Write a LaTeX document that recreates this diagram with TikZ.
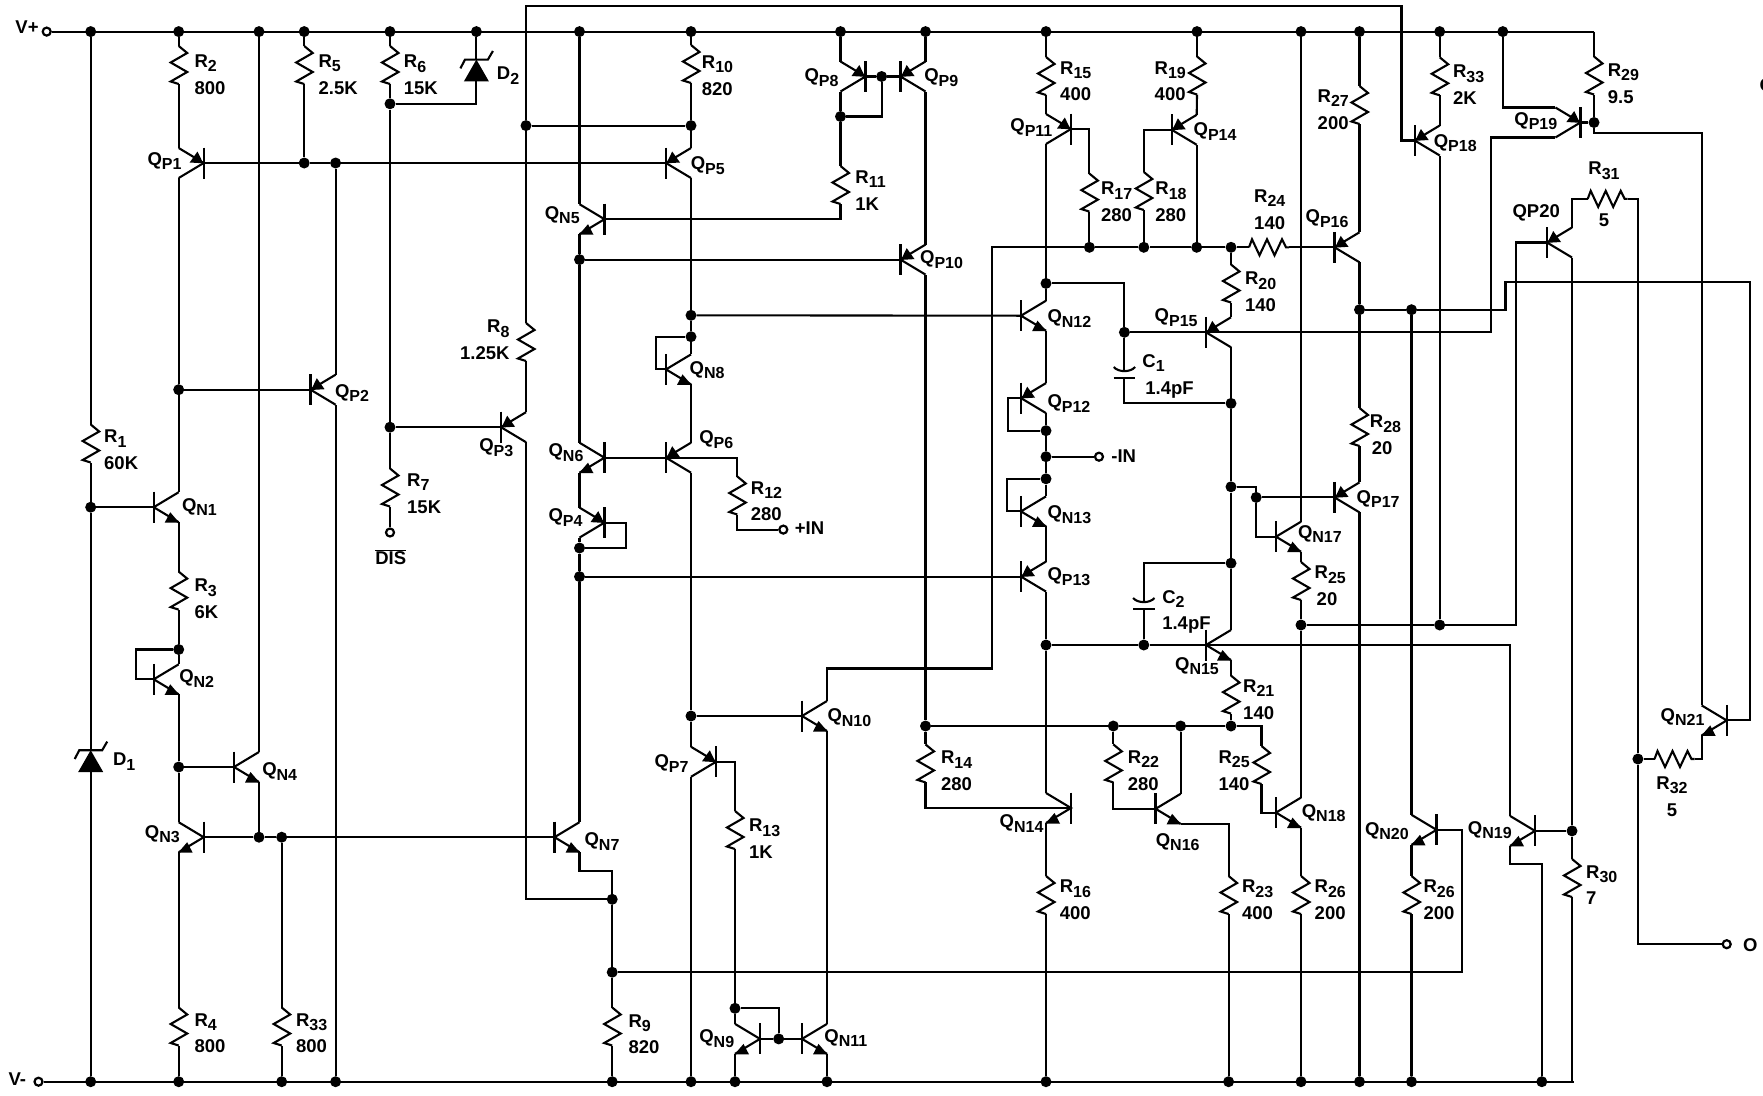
\documentclass[tikz,border=0pt]{standalone}
\usepackage{fontspec}
\setmainfont{Liberation Sans}
\newcommand{\sbs}[1]{\raisebox{-4.5pt}{\fontsize{16}{16}\selectfont #1}}

\begin{document}
\begin{tikzpicture}[
    x=1pt,y=-1pt,
    wire/.style={black,line width=2.1pt},
    junction/.style={circle,fill=black,inner sep=0pt,minimum size=11pt},
    terminal/.style={circle,draw=black,fill=white,line width=2.2pt,inner sep=0pt,minimum size=8pt},
    q_label/.style={anchor=north west,inner sep=0pt,text=black,font={\fontsize{18.5}{26.7}\selectfont\bfseries}},
    val_label/.style={q_label,align=left},
    flip/.style={xscale=-1},
    pnp/.pic={
      \coordinate (-b) at (0,0);
      \coordinate (-e) at (25,-15);
      \coordinate (-c) at (25,15);
      \draw[wire,line width=2.4pt] (0,-15.5) -- (0,15.5);
      \draw[wire] (-e) -- (-b) -- (-c);
      \fill[black] (0.5,0.3) -- (14,-0.5) -- (6.2,-11.5) -- cycle;
    },
    npn/.pic={
      \coordinate (-b) at (0,0);
      \coordinate (-c) at (25,-15);
      \coordinate (-e) at (25,15);
      \draw[wire,line width=2.4pt] (0,-15.5) -- (0,15.5);
      \draw[wire] (-c) -- (-b) -- (-e);
      \fill[black] (25.5,15.5) -- (11,15.5) -- (16.5,5) -- cycle;
    },
    res_v/.pic={
      \coordinate (-a) at (0,-19);
      \coordinate (-b) at (0,19);
      \draw[wire] (-a) -- (8.5,-12) -- (-8,-2.5) -- (8.5,7) -- (-8,16.5) -- (-b);
    },
    res_h/.pic={
      \coordinate (-a) at (-20,0);
      \coordinate (-b) at (20,0);
      \draw[wire] (-a) -- (-17,-8) -- (-9.5,8) -- (-2,-8) -- (5.5,8) -- (13,-8) -- (17,0) -- (-b);
    },
    zener/.pic={
      \coordinate (-a) at (0,-10.4);
      \coordinate (-b) at (0,11.4);
      \fill[black] (0,-10.4) -- (12.5,11.4) -- (-12.5,11.4) -- cycle;
      \draw[wire] (-16,-1.6) -- (-11.4,-10.4) -- (11.5,-10.4) -- (16.5,-19);
    },
    capac/.pic={
      \coordinate (-a) at (0,-1.3);
      \coordinate (-b) at (0,5);
      \draw[wire] (-10.7,-6) .. controls (-6,-0.5) and (6,-0.5) .. (10.7,-6);
      \draw[wire] (-10.7,5) -- (10.7,5);
    }]
\useasboundingbox (0,0) rectangle (1763,1095);

\node[terminal] (vplus) at (46.7,31.6) {};
\node[terminal] (vminus) at (38.5,1081.7) {};
\node[terminal] (dis_in) at (390,532.5) {};
\node[terminal] (in_plus) at (783.3,529.6) {};
\node[terminal] (in_minus) at (1099,456.7) {};
\node[terminal] (out) at (1726.7,944.2) {};

\coordinate (vp_end) at (1594,31.6);
\coordinate (vn_end) at (1574,1081.7);
\coordinate (top_l) at (526,5.6);
\coordinate (top_r) at (1401.5,5.6);

\node[junction] (vp1) at (90.7,31.6) {};
\node[junction] (vp2) at (178.7,31.6) {};
\node[junction] (vp3) at (259,31.6) {};
\node[junction] (vp4) at (304.2,31.6) {};
\node[junction] (vp5) at (390,31.6) {};
\node[junction] (vp6) at (476.4,31.6) {};
\node[junction] (vp7) at (579.5,31.6) {};
\node[junction] (vp8) at (691,31.6) {};
\node[junction] (vp9) at (840.5,31.6) {};
\node[junction] (vp10) at (925.5,31.6) {};
\node[junction] (vp11) at (1046,31.6) {};
\node[junction] (vp12) at (1197,31.6) {};
\node[junction] (vp13) at (1301,31.6) {};
\node[junction] (vp14) at (1359.5,31.6) {};
\node[junction] (vp15) at (1439.7,31.6) {};
\node[junction] (vp16) at (1502.8,31.6) {};

\node[junction] (vn1) at (90.7,1081.7) {};
\node[junction] (vn2) at (178.7,1081.7) {};
\node[junction] (vn3) at (281.7,1081.7) {};
\node[junction] (vn4) at (335.6,1081.7) {};
\node[junction] (vn5) at (612.2,1081.7) {};
\node[junction] (vn6) at (691,1081.7) {};
\node[junction] (vn7) at (735,1081.7) {};
\node[junction] (vn8) at (827,1081.7) {};
\node[junction] (vn9) at (1046,1081.7) {};
\node[junction] (vn10) at (1228.6,1081.7) {};
\node[junction] (vn11) at (1301,1081.7) {};
\node[junction] (vn12) at (1359.5,1081.7) {};
\node[junction] (vn13) at (1411.5,1081.7) {};
\node[junction] (vn14) at (1541.8,1081.7) {};

\node[junction] (j_qn1b) at (90.7,507.2) {};
\node[junction] (j_qp2b) at (178.7,389.7) {};
\node[junction] (j_qn2c) at (178.7,649.5) {};
\node[junction] (j_qn4b) at (178.7,767) {};
\node[junction] (j_qn3b) at (259,837.2) {};
\node[junction] (j_r33) at (281.7,837.2) {};
\node[junction] (j_r5) at (304.2,163) {};
\node[junction] (j_qp2e) at (335.6,163) {};
\node[junction] (j_d2) at (390,103.8) {};
\node[junction] (j_qp3b) at (390,427.2) {};
\node[junction] (j_r8) at (526,125.6) {};
\node[junction] (j_r10) at (691,125.6) {};
\node[junction] (j_r9) at (612.2,899.3) {};
\node[junction] (j_lo) at (612.2,972.2) {};
\node[junction] (j_qp10b) at (579.5,259.6) {};
\node[junction] (j_qp4) at (579.5,548) {};
\node[junction] (j_qp13b) at (579.5,576.6) {};
\node[junction] (j_qn12b) at (691,315.3) {};
\node[junction] (j_qn8) at (691,336.7) {};
\node[junction] (j_qn10b) at (691,716) {};
\node[junction] (j_qp8c) at (840.5,116.5) {};
\node[junction] (j_qp8b) at (881.6,76.5) {};
\node[junction] (j_r14) at (925.5,726) {};
\node[junction] (j_r22) at (1113.3,726) {};
\node[junction] (j_qn16c) at (1180.6,726) {};
\node[junction] (j_r21) at (1231,726) {};
\node[junction] (j_c1t) at (1046,283.4) {};
\node[junction] (j_qp12c) at (1046,430.7) {};
\node[junction] (j_in) at (1046,456.7) {};
\node[junction] (j_qn13c) at (1046,478.8) {};
\node[junction] (j_qn15b) at (1046,645) {};
\node[junction] (j_c2b) at (1143.8,645) {};
\node[junction] (j_r17) at (1089.4,247.3) {};
\node[junction] (j_r18) at (1143.8,247.3) {};
\node[junction] (j_qp14c) at (1196.7,247.3) {};
\node[junction] (j_r20) at (1231,247.3) {};
\node[junction] (j_qp15b) at (1124.4,332.3) {};
\node[junction] (j_c1b) at (1231,403.4) {};
\node[junction] (j_qn17) at (1231,486.8) {};
\node[junction] (j_c2t) at (1231,563.2) {};
\node[junction] (j_qp17b) at (1256.2,497.4) {};
\node[junction] (j_qn18c) at (1301,625) {};
\node[junction] (j_qp18c) at (1439.7,625) {};
\node[junction] (j_r28) at (1359.5,309.7) {};
\node[junction] (j_qn20c) at (1411.5,309.7) {};
\node[junction] (j_r29) at (1594,122.5) {};
\node[junction] (j_r30) at (1572,830.9) {};
\node[junction] (j_r32) at (1637.9,759) {};
\node[junction] (j_qn9c) at (735,1008.3) {};
\node[junction] (j_qn9b) at (778.7,1038.9) {};

\pic[flip] (qp1) at (203.7,163) {pnp};
\pic (qp2) at (310.6,389.7) {pnp};
\pic (qp3) at (501,427.2) {pnp};
\pic[flip] (qp4) at (604.5,522.6) {pnp};
\pic (qp5) at (666,163) {pnp};
\pic (qp6) at (666,457.7) {pnp};
\pic[flip] (qp7) at (716,761.8) {pnp};
\pic[flip] (qp8) at (865.5,76.5) {pnp};
\pic (qp9) at (900.5,76.5) {pnp};
\pic (qp10) at (900.5,259.6) {pnp};
\pic[flip] (qp11) at (1071,129) {pnp};
\pic (qp12) at (1021,398.1) {pnp};
\pic (qp13) at (1021,576.6) {pnp};
\pic (qp14) at (1171.7,129.8) {pnp};
\pic (qp15) at (1206,332.3) {pnp};
\pic (qp16) at (1334.5,247.3) {pnp};
\pic (qp17) at (1334.5,497.4) {pnp};
\pic (qp18) at (1414.7,140.5) {pnp};
\pic[flip] (qp19) at (1580.4,122.5) {pnp};
\pic (qp20) at (1547,242.5) {pnp};

\pic (qn1) at (153.7,507.2) {npn};
\pic (qn2) at (153.7,679.3) {npn};
\pic[flip] (qn3) at (203.7,837.2) {npn};
\pic (qn4) at (234,767) {npn};
\pic[flip] (qn5) at (604.5,219.2) {npn};
\pic[flip] (qn6) at (604.5,457.7) {npn};
\pic (qn7) at (554.5,837.2) {npn};
\pic (qn8) at (666,369.4) {npn};
\pic[flip] (qn9) at (760,1038.9) {npn};
\pic (qn10) at (802,716) {npn};
\pic (qn11) at (802,1038.9) {npn};
\pic (qn12) at (1021,315.7) {npn};
\pic (qn13) at (1021,511.4) {npn};
\pic[flip] (qn14) at (1071,808) {npn};
\pic (qn15) at (1206,645) {npn};
\pic (qn16) at (1155.6,808.8) {npn};
\pic (qn17) at (1276,536.7) {npn};
\pic (qn18) at (1276,812.6) {npn};
\pic[flip] (qn19) at (1535,830.9) {npn};
\pic[flip] (qn20) at (1436.5,829.8) {npn};
\pic[flip] (qn21) at (1726.7,720.4) {npn};

\pic (r1) at (90.7,443.5) {res_v};
\pic (r2) at (178.7,65) {res_v};
\pic (r3) at (178.7,590.6) {res_v};
\pic (r4) at (178.7,1026.5) {res_v};
\pic (r5) at (304.2,65) {res_v};
\pic (r6) at (390,65) {res_v};
\pic (r7) at (390,487.5) {res_v};
\pic (r8) at (526,342) {res_v};
\pic (r9) at (612.2,1026.5) {res_v};
\pic (r10) at (691,64) {res_v};
\pic (r11) at (840.5,185) {res_v};
\pic (r12) at (737.3,495.5) {res_v};
\pic (r13) at (735,830) {res_v};
\pic (r14) at (925.5,763.4) {res_v};
\pic (r15) at (1046,76) {res_v};
\pic (r16) at (1046,895) {res_v};
\pic (r17) at (1089.4,192.6) {res_v};
\pic (r18) at (1143.8,191) {res_v};
\pic (r19) at (1197,75.5) {res_v};
\pic (r20) at (1231,283.5) {res_v};
\pic (r21) at (1231,694.6) {res_v};
\pic (r22) at (1113.3,763.4) {res_v};
\pic (r23) at (1228.6,895) {res_v};
\pic (r24) at (1269,247.3) {res_h};
\pic (r25a) at (1301,581) {res_v};
\pic (r25b) at (1261.5,765) {res_v};
\pic (r26a) at (1301,895) {res_v};
\pic (r26b) at (1411.5,895) {res_v};
\pic (r27) at (1359.5,105) {res_v};
\pic (r28) at (1359.5,427) {res_v};
\pic (r29) at (1594,75.5) {res_v};
\pic (r30) at (1572,878) {res_v};
\pic (r31) at (1607.7,198.9) {res_h};
\pic (r32) at (1674.5,759) {res_h};
\pic (r33) at (281.7,1026.5) {res_v};
\pic (r33b) at (1439.7,76.3) {res_v};

\pic (d1) at (90.7,760.6) {zener};
\pic (d2) at (476.4,70) {zener};
\pic (c1) at (1124.4,373) {capac};
\pic (c2) at (1143.8,604) {capac};

\draw[wire] (vplus) -- (vp_end);
\draw[wire] (vminus) -- (vn_end);
\draw[wire] (vp1) -- (r1-a);
\draw[wire] (r1-b) -- (j_qn1b);
\draw[wire] (j_qn1b) -- (d1-a);
\draw[wire] (d1-b) -- (vn1);
\draw[wire] (j_qn1b) -- (qn1-b);
\draw[wire] (vp2) -- (r2-a);
\draw[wire] (r2-b) -- (qp1-e);
\draw[wire] (qp1-c) -- (j_qp2b);
\draw[wire] (j_qp2b) -- (qn1-c);
\draw[wire] (qn1-e) -- (r3-a);
\draw[wire] (r3-b) -- (j_qn2c);
\draw[wire] (j_qn2c) -- (qn2-c);
\draw[wire] (qn2-b) -- (135.9,679.3) |- (j_qn2c);
\draw[wire] (qn2-e) -- (j_qn4b);
\draw[wire] (j_qn4b) -- (qn3-c);
\draw[wire] (qn3-e) -- (r4-a);
\draw[wire] (r4-b) -- (vn2);
\draw[wire] (j_qn4b) -- (qn4-b);
\draw[wire] (vp3) -- (qn4-c);
\draw[wire] (qn4-e) -- (j_qn3b);
\draw[wire] (qn3-b) -- (j_qn3b);
\draw[wire] (j_qn3b) -- (j_r33);
\draw[wire] (j_r33) -- (qn7-b);
\draw[wire] (j_r33) -- (r33-a);
\draw[wire] (r33-b) -- (vn3);
\draw[wire] (vp4) -- (r5-a);
\draw[wire] (r5-b) -- (j_r5);
\draw[wire] (qp1-b) -- (j_r5);
\draw[wire] (j_r5) -- (j_qp2e);
\draw[wire] (j_qp2e) -- (qp5-b);
\draw[wire] (j_qp2e) -- (qp2-e);
\draw[wire] (qp2-c) -- (vn4);
\draw[wire] (j_qp2b) -- (qp2-b);
\draw[wire] (vp5) -- (r6-a);
\draw[wire] (r6-b) -- (j_d2);
\draw[wire] (j_d2) -- (j_qp3b);
\draw[wire] (j_qp3b) -- (qp3-b);
\draw[wire] (j_qp3b) -- (r7-a);
\draw[wire] (r7-b) -- (dis_in);
\draw[wire] (vp6) -- (d2-a);
\draw[wire] (d2-b) |- (j_d2);
\draw[wire] (qp3-e) -- (r8-b);
\draw[wire] (r8-a) -- (j_r8);
\draw[wire] (j_r8) -- (top_l) -- (top_r) |- (qp18-b);
\draw[wire] (j_r8) -- (j_r10);
\draw[wire] (qp3-c) |- (j_r9);
\draw[wire] (vp7) -- (qn5-c);
\draw[wire] (qn5-e) -- (j_qp10b);
\draw[wire] (j_qp10b) -- (qp10-b);
\draw[wire] (j_qp10b) -- (qn6-c);
\draw[wire] (qn6-e) -- (qp4-e);
\draw[wire] (qp4-c) -- (j_qp4);
\draw[wire] (j_qp4) -- (j_qp13b);
\draw[wire] (j_qp13b) -- (qp13-b);
\draw[wire] (j_qp13b) -- (qn7-c);
\draw[wire] (qp4-b) -- (626.4,522.6) |- (j_qp4);
\draw[wire] (qn7-e) -- (579.5,871.2) -| (j_r9);
\draw[wire] (j_r9) -- (j_lo);
\draw[wire] (j_lo) -- (r9-a);
\draw[wire] (r9-b) -- (vn5);
\draw[wire] (j_lo) -- (1461.6,972.2) |- (qn20-b);
\draw[wire] (vp8) -- (r10-a);
\draw[wire] (r10-b) -- (j_r10);
\draw[wire] (j_r10) -- (qp5-e);
\draw[wire] (qp5-c) -- (j_qn12b);
\draw[wire] (j_qn12b) -- (qn12-b);
\draw[wire] (j_qn12b) -- (j_qn8);
\draw[wire] (j_qn8) -- (qn8-c);
\draw[wire] (qn8-b) -- (655.8,369.4) |- (j_qn8);
\draw[wire] (qn8-e) -- (qp6-e);
\draw[wire] (qn6-b) -- (qp6-b);
\draw[wire] (qp6-b) -| (r12-a);
\draw[wire] (r12-b) |- (in_plus);
\draw[wire] (qp6-c) -- (j_qn10b);
\draw[wire] (j_qn10b) -- (qn10-b);
\draw[wire] (j_qn10b) -- (qp7-e);
\draw[wire] (qp7-c) -- (vn6);
\draw[wire] (vp9) -- (qp8-e);
\draw[wire] (qp8-c) -- (j_qp8c);
\draw[wire] (j_qp8c) -- (r11-a);
\draw[wire] (r11-b) |- (qn5-b);
\draw[wire] (qp8-b) -- (j_qp8b);
\draw[wire] (j_qp8b) -- (qp9-b);
\draw[wire] (j_qp8b) |- (j_qp8c);
\draw[wire] (vp10) -- (qp9-e);
\draw[wire] (qp9-c) -- (qp10-e);
\draw[wire] (qp10-c) -- (j_r14);
\draw[wire] (j_r14) -- (r14-a);
\draw[wire] (r14-b) |- (qn14-b);
\draw[wire] (j_r14) -- (j_r22);
\draw[wire] (j_r22) -- (j_qn16c);
\draw[wire] (j_qn16c) -- (j_r21);
\draw[wire] (j_r21) -| (r25b-a);
\draw[wire] (r25b-b) |- (qn18-b);
\draw[wire] (vp11) -- (r15-a);
\draw[wire] (r15-b) -- (qp11-e);
\draw[wire] (qp11-c) -- (j_c1t);
\draw[wire] (j_c1t) -- (qn12-c);
\draw[wire] (qn12-e) -- (qp12-e);
\draw[wire] (qp12-c) -- (j_qp12c);
\draw[wire] (j_qp12c) -- (j_in);
\draw[wire] (j_in) -- (j_qn13c);
\draw[wire] (j_qn13c) -- (qn13-c);
\draw[wire] (qn13-e) -- (qp13-e);
\draw[wire] (qp13-c) -- (j_qn15b);
\draw[wire] (j_qn15b) -- (qn14-c);
\draw[wire] (qn14-e) -- (r16-a);
\draw[wire] (r16-b) -- (vn9);
\draw[wire] (qp12-b) -- (1008.3,398.1) |- (j_qp12c);
\draw[wire] (qn13-b) -- (1007.1,511.4) |- (j_qn13c);
\draw[wire] (j_in) -- (in_minus);
\draw[wire] (qp11-b) -| (r17-a);
\draw[wire] (r17-b) -- (j_r17);
\draw[wire] (vp12) -- (r19-a);
\draw[wire] (r19-b) -- (qp14-e);
\draw[wire] (qp14-c) -- (j_qp14c);
\draw[wire] (qp14-b) -| (r18-a);
\draw[wire] (r18-b) -- (j_r18);
\draw[wire] (qp16-b) -- (r24-b);
\draw[wire] (r24-a) -- (j_r20);
\draw[wire] (j_r20) -- (j_qp14c);
\draw[wire] (j_qp14c) -- (j_r18);
\draw[wire] (j_r18) -- (j_r17);
\draw[wire] (j_r17) -- (991.8,247.3) -- (991.8,668.5) -| (qn10-c);
\draw[wire] (j_r20) -- (r20-a);
\draw[wire] (r20-b) -- (qp15-e);
\draw[wire] (qp15-c) -- (j_c1b);
\draw[wire] (j_c1b) -- (j_qn17);
\draw[wire] (j_qn17) -- (j_c2t);
\draw[wire] (j_c2t) -- (qn15-c);
\draw[wire] (qn15-e) -- (r21-a);
\draw[wire] (r21-b) -- (j_r21);
\draw[wire] (j_c1t) -| (j_qp15b);
\draw[wire] (j_qp15b) -- (c1-a);
\draw[wire] (c1-b) |- (j_c1b);
\draw[wire] (j_qp15b) -- (qp15-b);
\draw[wire] (qp15-b) -- (1490.7,332.3) |- (qp19-c);
\draw[wire] (j_c2b) -- (c2-b);
\draw[wire] (c2-a) |- (j_c2t);
\draw[wire] (j_qn15b) -- (j_c2b);
\draw[wire] (j_c2b) -- (qn15-b);
\draw[wire] (qn15-b) -| (qn19-c);
\draw[wire] (qn19-e) -- (1510,864.2) -| (vn14);
\draw[wire] (qn19-b) -- (j_r30);
\draw[wire] (qp20-c) -- (j_r30);
\draw[wire] (j_r30) -- (r30-a);
\draw[wire] (r30-b) -- (1572,1081.7);
\draw[wire] (j_qn17) -- (1256.2,486.8) -- (j_qp17b);
\draw[wire] (j_qp17b) -- (qp17-b);
\draw[wire] (j_qp17b) |- (qn17-b);
\draw[wire] (vp13) -- (qn17-c);
\draw[wire] (qn17-e) -- (r25a-a);
\draw[wire] (r25a-b) -- (j_qn18c);
\draw[wire] (j_qn18c) -- (qn18-c);
\draw[wire] (qn18-e) -- (r26a-a);
\draw[wire] (r26a-b) -- (vn11);
\draw[wire] (j_qn18c) -- (j_qp18c);
\draw[wire] (j_qp18c) -- (1516,625) |- (qp20-b);
\draw[wire] (qp18-c) -- (j_qp18c);
\draw[wire] (vp15) -- (r33b-a);
\draw[wire] (r33b-b) -- (qp18-e);
\draw[wire] (vp14) -- (r27-a);
\draw[wire] (r27-b) -- (qp16-e);
\draw[wire] (qp16-c) -- (j_r28);
\draw[wire] (j_r28) -- (r28-a);
\draw[wire] (r28-b) -- (qp17-e);
\draw[wire] (qp17-c) -- (vn12);
\draw[wire] (j_r28) -- (j_qn20c);
\draw[wire] (j_qn20c) -- (1505.5,309.7) -- (1505.5,281.7) -- (1749.8,281.7) |- (qn21-b);
\draw[wire] (j_qn20c) -- (qn20-c);
\draw[wire] (qn20-e) -- (r26b-a);
\draw[wire] (r26b-b) -- (vn13);
\draw[wire] (vp16) |- (qp19-e);
\draw[wire] (vp_end) -- (r29-a);
\draw[wire] (r29-b) -- (j_r29);
\draw[wire] (qp19-b) -- (j_r29);
\draw[wire] (j_r29) -- (1594,133.3) -| (qn21-c);
\draw[wire] (qp20-e) -- (1572,198.9) -- (r31-a);
\draw[wire] (r31-b) -| (j_r32);
\draw[wire] (j_r32) |- (out);
\draw[wire] (j_r32) -- (r32-a);
\draw[wire] (r32-b) -| (qn21-e);
\draw[wire] (qp7-b) -| (r13-a);
\draw[wire] (r13-b) -- (j_qn9c);
\draw[wire] (j_qn9c) -- (qn9-c);
\draw[wire] (qn9-e) -- (vn7);
\draw[wire] (qn9-b) -- (j_qn9b);
\draw[wire] (j_qn9b) -- (qn11-b);
\draw[wire] (j_qn9b) |- (j_qn9c);
\draw[wire] (qn10-e) -- (qn11-c);
\draw[wire] (qn11-e) -- (vn8);
\draw[wire] (j_r22) -- (r22-a);
\draw[wire] (r22-b) |- (qn16-b);
\draw[wire] (j_qn16c) -- (qn16-c);
\draw[wire] (qn16-e) -| (r23-a);
\draw[wire] (r23-b) -- (vn10);

\node[q_label] (l_vplus) at (15.3,21) {V+};
\node[q_label] (l_vminus) at (8.4,1072.9) {V-};
\node[q_label] (l_in_plus) at (794.7,521.6) {+IN};
\node[q_label] (l_in_minus) at (1111.2,450) {-IN};
\node[q_label] (l_out) at (1743,937.9) {O};
\node[q_label] (l_clip) at (1759.5,78) {O};
\node[q_label,anchor=north] (l_dis) at (390.7,549.5) {$\overline{\mbox{DIS}}$};
\node[q_label] (l_d1) at (112.9,753) {D\sbs{1}};
\node[q_label] (l_d2) at (496.7,66.6) {D\sbs{2}};

\node[q_label] (l_qp1) at (147.3,151.9) {Q\sbs{P1}};
\node[q_label] (l_qp2) at (334.9,384) {Q\sbs{P2}};
\node[q_label] (l_qp3) at (479.1,438.4) {Q\sbs{P3}};
\node[q_label] (l_qp4) at (548.4,508.6) {Q\sbs{P4}};
\node[q_label] (l_qp5) at (690.6,156.8) {Q\sbs{P5}};
\node[q_label] (l_qp6) at (699.1,430.7) {Q\sbs{P6}};
\node[q_label] (l_qp7) at (654.3,754.4) {Q\sbs{P7}};
\node[q_label] (l_qp8) at (804.3,68.4) {Q\sbs{P8}};
\node[q_label] (l_qp9) at (924.1,68.4) {Q\sbs{P9}};
\node[q_label] (l_qp10) at (919.9,250.8) {Q\sbs{P10}};
\node[q_label] (l_qp11) at (1010.2,118.6) {Q\sbs{P11}};
\node[q_label] (l_qp12) at (1047.3,394.6) {Q\sbs{P12}};
\node[q_label] (l_qp13) at (1047.3,567.8) {Q\sbs{P13}};
\node[q_label] (l_qp14) at (1193.4,122.8) {Q\sbs{P14}};
\node[q_label] (l_qp15) at (1154.5,308.7) {Q\sbs{P15}};
\node[q_label] (l_qp16) at (1305.4,209.4) {Q\sbs{P16}};
\node[q_label] (l_qp17) at (1356.5,490) {Q\sbs{P17}};
\node[q_label] (l_qp18) at (1433.6,134) {Q\sbs{P18}};
\node[q_label] (l_qp19) at (1514.2,112.2) {Q\sbs{P19}};
\node[q_label] (l_qp20) at (1512.3,204.1) {QP20};

\node[q_label] (l_qn1) at (181.8,498) {Q\sbs{N1}};
\node[q_label] (l_qn2) at (179.1,669.5) {Q\sbs{N2}};
\node[q_label] (l_qn3) at (144.7,824.9) {Q\sbs{N3}};
\node[q_label] (l_qn4) at (262.1,762.5) {Q\sbs{N4}};
\node[q_label] (l_qn5) at (544.6,206.2) {Q\sbs{N5}};
\node[q_label] (l_qn6) at (548.4,443.7) {Q\sbs{N6}};
\node[q_label] (l_qn7) at (584.4,832.6) {Q\sbs{N7}};
\node[q_label] (l_qn8) at (689.5,361.3) {Q\sbs{N8}};
\node[q_label] (l_qn9) at (699.1,1029.7) {Q\sbs{N9}};
\node[q_label] (l_qn10) at (827.3,708.8) {Q\sbs{N10}};
\node[q_label] (l_qn11) at (824.2,1029) {Q\sbs{N11}};
\node[q_label] (l_qn12) at (1047.3,309.4) {Q\sbs{N12}};
\node[q_label] (l_qn13) at (1047.3,505.8) {Q\sbs{N13}};
\node[q_label] (l_qn14) at (999.5,814.4) {Q\sbs{N14}};
\node[q_label] (l_qn15) at (1174.9,657.2) {Q\sbs{N15}};
\node[q_label] (l_qn16) at (1155.6,833.3) {Q\sbs{N16}};
\node[q_label] (l_qn17) at (1297.8,525.1) {Q\sbs{N17}};
\node[q_label] (l_qn18) at (1301.6,803.9) {Q\sbs{N18}};
\node[q_label] (l_qn19) at (1467.7,821) {Q\sbs{N19}};
\node[q_label] (l_qn20) at (1364.8,822.1) {Q\sbs{N20}};
\node[q_label] (l_qn21) at (1660.5,708.1) {Q\sbs{N21}};

\node[val_label] (l_r1) at (104,429.7) {R\sbs{1}\\60K};
\node[val_label] (l_r2) at (194.4,54.4) {R\sbs{2}\\800};
\node[val_label] (l_r3) at (194.4,579) {R\sbs{3}\\6K};
\node[val_label] (l_r4) at (194.4,1013.2) {R\sbs{4}\\800};
\node[val_label] (l_r5) at (318.4,54.4) {R\sbs{5}\\2.5K};
\node[val_label] (l_r6) at (403.7,55) {R\sbs{6}\\15K};
\node[val_label] (l_r7) at (407,473.5) {R\sbs{7}\\15K};
\node[val_label,align=right,anchor=north east] (l_r8) at (509.7,320) {R\sbs{8}\hspace{3pt}\\1.25K};
\node[val_label] (l_r9) at (628.3,1014.3) {R\sbs{9}\\820};
\node[val_label] (l_r10) at (701.7,55.5) {R\sbs{10}\\820};
\node[val_label] (l_r11) at (855.2,170.5) {R\sbs{11}\\1K};
\node[val_label] (l_r12) at (750.7,481.2) {R\sbs{12}\\280};
\node[val_label] (l_r13) at (748.8,818.6) {R\sbs{13}\\1K};
\node[val_label] (l_r14) at (940.9,750.9) {R\sbs{14}\\280};
\node[val_label] (l_r15) at (1060,61.2) {R\sbs{15}\\400};
\node[val_label] (l_r16) at (1059.6,880) {R\sbs{16}\\400};
\node[val_label] (l_r17) at (1100.9,182) {R\sbs{17}\\280};
\node[val_label] (l_r18) at (1155.2,182) {R\sbs{18}\\280};
\node[val_label] (l_r19) at (1154.5,61.2) {R\sbs{19}\\400};
\node[val_label] (l_r20) at (1244.9,271.8) {R\sbs{20}\\140};
\node[val_label] (l_r21) at (1243,679.5) {R\sbs{21}\\140};
\node[val_label] (l_r22) at (1127.7,750.4) {R\sbs{22}\\280};
\node[val_label] (l_r23) at (1241.9,880) {R\sbs{23}\\400};
\node[val_label] (l_r24) at (1254,189.4) {R\sbs{24}\\140};
\node[val_label] (l_r25a) at (1314.5,566) {R\sbs{25}\\\hspace{2pt}20};
\node[val_label] (l_r25b) at (1218.4,750.4) {R\sbs{25}\\140};
\node[val_label] (l_r26a) at (1314.5,880) {R\sbs{26}\\200};
\node[val_label] (l_r26b) at (1423.4,880) {R\sbs{26}\\200};
\node[val_label] (l_r27) at (1317.5,89.4) {R\sbs{27}\\200};
\node[val_label] (l_r28) at (1369.7,414.6) {R\sbs{28}\\\hspace{2pt}20};
\node[val_label] (l_r29) at (1607.6,63.5) {R\sbs{29}\\9.5};
\node[val_label] (l_r30) at (1586,865.2) {R\sbs{30}\\7};
\node[val_label,align=center,anchor=north] (l_r31) at (1604,162) {R\sbs{31}\\[25pt]5};
\node[val_label,align=center,anchor=north] (l_r32) at (1672,776.5) {R\sbs{32}\\5};
\node[val_label] (l_r33) at (295.8,1013.2) {R\sbs{33}\\800};
\node[val_label] (l_r33b) at (1452.9,64.9) {R\sbs{33}\\2K};
\node[val_label] (l_c1) at (1142.2,354.3) {C\sbs{1}\\\hspace{3pt}1.4pF};
\node[val_label] (l_c2) at (1162.1,589.9) {C\sbs{2}\\1.4pF};
\end{tikzpicture}
\end{document}
